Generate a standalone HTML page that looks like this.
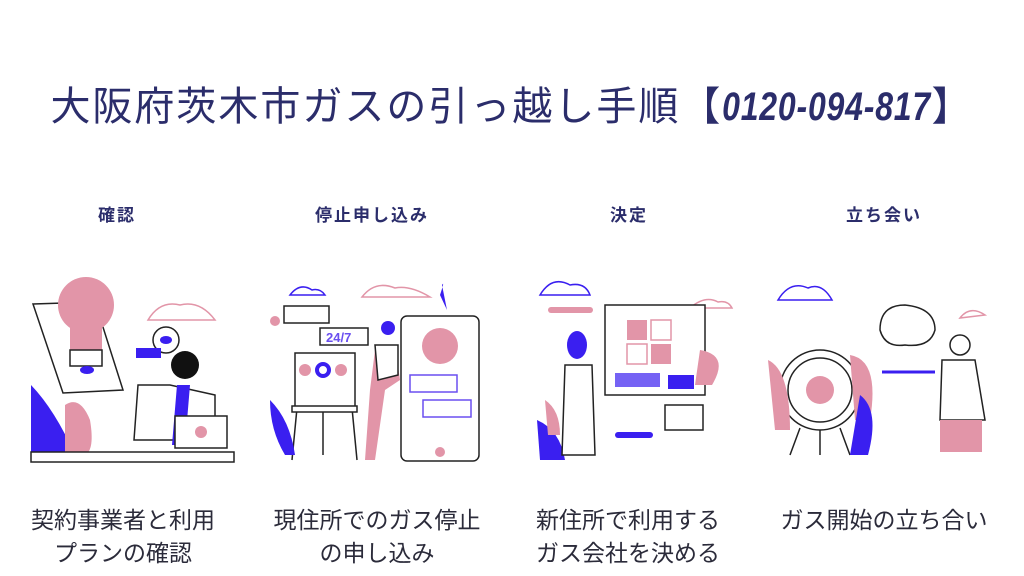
<!DOCTYPE html>
<html><head><meta charset="utf-8"><style>
body{margin:0;width:1024px;height:576px;background:#fff;overflow:hidden;position:relative;font-family:"Liberation Sans","Noto Sans CJK JP",sans-serif;color:#2b2d6b}
.t{position:absolute;left:0;width:1024px;top:74px;text-align:center;font-size:40px;letter-spacing:2px;white-space:nowrap}
.t i{display:inline-block;font-style:italic;font-weight:bold;transform:scaleX(.8);margin:0 -26px;letter-spacing:1px}
.h{position:absolute;top:201px;font-size:17px;font-weight:bold;text-align:center;width:200px;letter-spacing:2px}
.b{position:absolute;top:504px;font-size:23px;text-align:center;width:280px;line-height:33px;color:#2b2b3a;white-space:nowrap}
svg{position:absolute;left:0;top:0}
</style></head><body>
<div class="t">大阪府茨木市ガスの引っ越し手順【<i>0120-094-817</i>】</div>
<div class="h" style="left:17px">確認</div>
<div class="h" style="left:272px">停止申し込み</div>
<div class="h" style="left:529px">決定</div>
<div class="h" style="left:784px">立ち会い</div>
<div class="b" style="left:-17px">契約事業者と利用<br>プランの確認</div>
<div class="b" style="left:237px">現住所でのガス停止<br>の申し込み</div>
<div class="b" style="left:488px">新住所で利用する<br>ガス会社を決める</div>
<div class="b" style="left:744px">ガス開始の立ち合い</div>
<svg width="1024" height="576" fill="none" stroke="#222" stroke-width="1.5">
<path d="M33 304 L95 302 L123 390 L63 393 Z" fill="#fff"/>
<circle cx="86" cy="305" r="28" fill="#e295a8" stroke="none"/>
<rect x="70" y="320" width="32" height="30" fill="#e295a8" stroke="none"/>
<rect x="70" y="350" width="32" height="16" fill="#fff"/>
<ellipse cx="87" cy="370" rx="7" ry="4" fill="#3a1ff0" stroke="none"/>
<path d="M31 385 Q55 410 75 455 L31 455 Z" fill="#3a1ff0" stroke="none"/>
<path d="M65 405 Q80 395 90 420 Q95 450 85 455 L65 455 Z" fill="#e295a8" stroke="none"/>
<path d="M148 320 Q160 300 180 305 Q200 300 215 320 Z" stroke="#e295a8"/>
<circle cx="166" cy="340" r="13" fill="#fff"/><ellipse cx="166" cy="340" rx="6" ry="4" fill="#3a1ff0" stroke="none"/>
<circle cx="185" cy="365" r="14" fill="#111" stroke="none"/>
<path d="M134 440 L138 385 L170 385 L215 395 L215 440 Z" fill="#fff"/>
<path d="M177 385 L190 385 L185 445 L172 445 Z" fill="#3a1ff0" stroke="none"/>
<rect x="136" y="348" width="25" height="10" fill="#3a1ff0" stroke="none"/>
<rect x="175" y="416" width="52" height="32" fill="#fff"/><circle cx="201" cy="432" r="6" fill="#e295a8" stroke="none"/>
<rect x="31" y="452" width="203" height="10" fill="#fff"/>
<path d="M290 295 Q300 282 312 290 Q320 288 325 295 Z" stroke="#3a1ff0"/>
<path d="M362 297 Q375 280 395 288 Q410 285 430 297 Z" stroke="#e295a8"/>
<rect x="284" y="306" width="45" height="17" fill="#fff"/><circle cx="275" cy="321" r="5" fill="#e295a8" stroke="none"/>
<rect x="320" y="328" width="48" height="17" fill="#fff"/><text x="326" y="342" fill="#6a4ff0" stroke="none" font-size="13" font-weight="bold" font-family="Liberation Sans">24/7</text>
<rect x="295" y="353" width="60" height="55" fill="#fff"/>
<circle cx="305" cy="370" r="6" fill="#e295a8" stroke="none"/><circle cx="323" cy="370" r="6" fill="none" stroke="#3a1ff0" stroke-width="4"/><circle cx="341" cy="370" r="6" fill="#e295a8" stroke="none"/>
<path d="M297 408 L292 460 M352 408 L357 460 M323 408 L323 455"/>
<rect x="292" y="406" width="65" height="6" fill="#fff"/>
<path d="M270 400 Q290 420 295 455 L285 455 Q270 430 270 400Z" fill="#3a1ff0" stroke="none"/>
<path d="M440 295 Q445 280 442 285 L447 310 Z" fill="#3a1ff0" stroke="none"/>
<rect x="401" y="316" width="78" height="145" rx="6" fill="#fff"/>
<circle cx="440" cy="346" r="18" fill="#e295a8" stroke="none"/>
<rect x="410" y="375" width="47" height="17" stroke="#6a4ff0"/>
<rect x="423" y="400" width="48" height="17" stroke="#6a4ff0"/>
<circle cx="440" cy="452" r="5" fill="#e295a8" stroke="none"/>
<circle cx="388" cy="328" r="7" fill="#3a1ff0" stroke="none"/>
<path d="M375 350 L395 345 L400 380 L385 390 L375 460 L365 460 L370 390 Z" fill="#e295a8" stroke="none"/>
<path d="M375 345 L398 345 L398 375 L378 380 Z" fill="#fff"/>
<path d="M540 295 Q552 275 570 285 Q585 282 590 295 Z" stroke="#3a1ff0"/>
<path d="M690 308 Q705 295 718 302 Q728 300 732 308 Z" stroke="#e295a8"/>
<rect x="548" y="307" width="45" height="6" rx="3" fill="#e295a8" stroke="none"/>
<rect x="605" y="305" width="100" height="90" fill="#fff"/>
<rect x="627" y="320" width="20" height="20" fill="#e295a8" stroke="none"/><rect x="651" y="320" width="20" height="20" stroke="#e295a8"/>
<rect x="627" y="344" width="20" height="20" stroke="#e295a8"/><rect x="651" y="344" width="20" height="20" fill="#e295a8" stroke="none"/>
<rect x="668" y="375" width="26" height="14" fill="#3a1ff0" stroke="none"/>
<rect x="615" y="373" width="45" height="14" fill="#3a1ff0" stroke="none" opacity=".7"/>
<path d="M700 350 Q730 355 712 385 L695 385 Z" fill="#e295a8" stroke="none"/>
<rect x="665" y="405" width="38" height="25" fill="#fff"/>
<rect x="615" y="432" width="38" height="6" rx="3" fill="#3a1ff0" stroke="none"/>
<path d="M537 420 Q560 430 565 460 L540 460 Z" fill="#3a1ff0" stroke="none"/>
<path d="M545 400 Q560 410 560 435 L548 435Z" fill="#e295a8" stroke="none"/>
<ellipse cx="577" cy="345" rx="10" ry="14" fill="#3a1ff0" stroke="none"/>
<path d="M565 365 L592 365 L595 455 L562 455 Z" fill="#fff"/>
<path d="M778 300 Q790 280 808 288 Q822 282 832 300 Z" stroke="#3a1ff0"/>
<path d="M960 318 Q970 305 985 315 Z" stroke="#e295a8"/>
<path d="M880 330 Q880 305 905 305 Q935 308 935 330 Q930 348 905 345 Q885 348 880 330Z" fill="#fff"/>
<circle cx="820" cy="390" r="40" fill="#fff"/><circle cx="820" cy="390" r="32" /><circle cx="820" cy="390" r="14" fill="#e295a8" stroke="none"/>
<path d="M800 428 L790 455 M840 428 L850 455 M820 430 L820 455"/>
<path d="M768 360 Q790 370 790 430 L775 430 Z" fill="#e295a8" stroke="none"/>
<path d="M850 355 Q880 360 870 420 L855 420 Z" fill="#e295a8" stroke="none"/>
<path d="M860 395 Q880 410 868 455 L850 455 Z" fill="#3a1ff0" stroke="none"/>
<line x1="882" y1="372" x2="935" y2="372" stroke="#3a1ff0" stroke-width="3"/>
<circle cx="960" cy="345" r="10" fill="#fff"/>
<path d="M942 360 L975 360 L985 420 L940 420 Z" fill="#fff"/>
<rect x="940" y="420" width="42" height="32" fill="#e295a8" stroke="none"/>
</svg>
</body></html>
